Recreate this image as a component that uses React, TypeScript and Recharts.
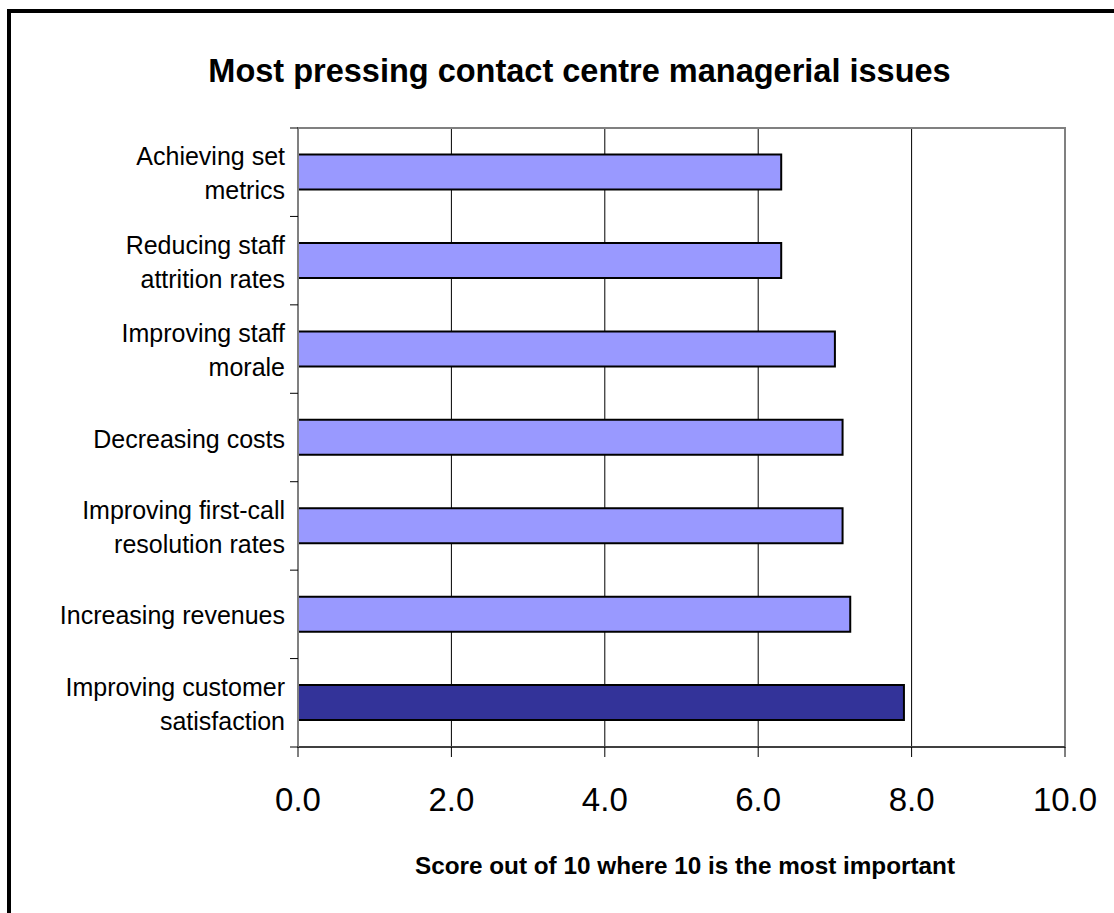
import React from 'react';
import { BarChart, Bar, XAxis, YAxis, CartesianGrid, Cell, ReferenceArea } from 'recharts';

const categories = [
  'Achieving set\nmetrics',
  'Reducing staff\nattrition rates',
  'Improving staff\nmorale',
  'Decreasing costs',
  'Improving first-call\nresolution rates',
  'Increasing revenues',
  'Improving customer\nsatisfaction',
];
const scores = [6.3, 6.3, 7.0, 7.1, 7.1, 7.2, 7.9];
const xTicks = [0, 2, 4, 6, 8, 10];
const gridValues = [2, 4, 6, 8];
const highlighted = 'Improving customer\nsatisfaction';
const chartTitle = 'Most pressing contact centre managerial issues';
const xAxisTitle = 'Score out of 10 where 10 is the most important';

const data = categories.map((c, i) => ({ category: c, score: scores[i] }));

const FONT = '"Liberation Sans", Arial, Helvetica, sans-serif';
const LIGHT = '#9999FF';
const DARK = '#333399';

function YTick(props: any) {
  const { x, y, payload, index } = props;
  const lines = String(payload.value).split('\n');
  const half = typeof payload.offset === 'number' && payload.offset > 0 ? payload.offset : 44.2;
  const lh = 34;
  const axisX = x + 13;
  const isLast = index === categories.length - 1;
  return (
    <g>
      <line x1={axisX - 8} x2={axisX} y1={y - half} y2={y - half} stroke="#000" strokeWidth={1} />
      {isLast && <line x1={axisX - 8} x2={axisX} y1={y + half} y2={y + half} stroke="#000" strokeWidth={1} />}
      <text textAnchor="end" fontSize={25} fill="#000" fontFamily={FONT}>
        {lines.map((l, i) => (
          <tspan key={i} x={x} y={y + 10 + (i - (lines.length - 1) / 2) * lh}>
            {l}
          </tspan>
        ))}
      </text>
    </g>
  );
}

export default function App() {
  return (
    <div style={{ position: 'absolute', left: 0, top: 0, width: 1114, height: 913, overflow: 'hidden', background: '#fff' }}>
      <div
        style={{
          position: 'absolute',
          left: 7,
          top: 9,
          width: 2000,
          height: 2000,
          borderTop: '4px solid #000',
          borderLeft: '4px solid #000',
        }}
      />
      <div style={{ position: 'absolute', left: 0, top: 0 }}>
        <BarChart
          width={1114}
          height={913}
          data={data}
          layout="vertical"
          margin={{ top: 128, right: 49, bottom: 106, left: 0 }}
          barCategoryGap="30%"
        >
          <CartesianGrid horizontal={false} verticalValues={gridValues} stroke="#000" strokeWidth={1} />
          <ReferenceArea x1={0} x2={10} fill="none" stroke="#808080" strokeWidth={2} ifOverflow="visible" />
          <XAxis
            type="number"
            dataKey="score"
            domain={[0, 10]}
            ticks={xTicks}
            interval={0}
            tickFormatter={(v: number) => v.toFixed(1)}
            height={60}
            tickSize={10}
            tickMargin={31}
            axisLine={{ stroke: '#404040', strokeWidth: 2 }}
            tickLine={{ stroke: '#000', strokeWidth: 1 }}
            tick={{ fontSize: 33, fill: '#000', fontFamily: FONT }}
          />
          <YAxis
            type="category"
            dataKey="category"
            width={298}
            interval={0}
            tickSize={8}
            tickMargin={5}
            tickLine={false}
            axisLine={{ stroke: '#808080', strokeWidth: 2 }}
            tick={<YTick />}
          />
          <Bar dataKey="score" stroke="#000" strokeWidth={2} isAnimationActive={false}>
            {data.map((d, i) => (
              <Cell key={i} fill={d.category === highlighted ? DARK : LIGHT} />
            ))}
          </Bar>
        </BarChart>
      </div>
      <svg
        width={1114}
        height={913}
        style={{ position: 'absolute', left: 0, top: 0, pointerEvents: 'none' }}
      >
        <text x={579.5} y={82} textAnchor="middle" fontSize={32.5} fontWeight="bold" fill="#000" fontFamily={FONT}>
          {chartTitle}
        </text>
        <text x={685} y={874} textAnchor="middle" fontSize={24.3} fontWeight="bold" fill="#000" fontFamily={FONT}>
          {xAxisTitle}
        </text>
      </svg>
    </div>
  );
}
